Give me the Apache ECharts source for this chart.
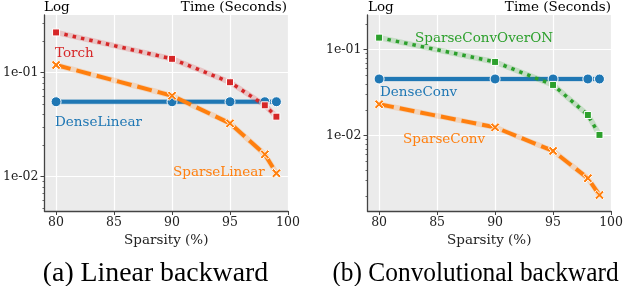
<!DOCTYPE html>
<html><head><meta charset="utf-8">
<script src="https://cdn.jsdelivr.net/npm/echarts@6/dist/echarts.min.js"></script>
<style>html,body{margin:0;padding:0;background:#fff}#c{width:626px;height:286px}</style>
</head><body><div id="c"></div>
<script>
// ---- data ----
const sparsity = [80, 90, 95, 98, 99];
const xTicks = [80, 85, 90, 95, 100];
const yTicks = [0.01, 0.1];
const yTickLabels = ['1e-02', '1e-01'];
const yMinorLeft = [0.005,0.006,0.007,0.008,0.009,0.02,0.03,0.04,0.05,0.06,0.07,0.08,0.09,0.2,0.3];
const yMinorRight = [0.002,0.003,0.004,0.005,0.006,0.007,0.008,0.009,0.02,0.03,0.04,0.05,0.06,0.07,0.08,0.09,0.2];
// Linear backward
const torch = [0.244, 0.136, 0.081, 0.0486, 0.0378];
const denseLinear = [0.0526, 0.0526, 0.0526, 0.0526, 0.0526];
const sparseLinear = [0.1186, 0.0601, 0.0326, 0.0164, 0.0108];
// Convolutional backward
const sparseConvOverON = [0.138, 0.072, 0.0389, 0.0174, 0.0102];
const denseConv = [0.0456, 0.0456, 0.0456, 0.0456, 0.0456];
const sparseConv = [0.0232, 0.0125, 0.00664, 0.0032, 0.00204];

const C = {blue:'#1f77b4', orange:'#ff7f0e', green:'#2ca02c', red:'#d62728'};
const FONT = 'DejaVu Serif';
const XPATH = 'path://M2,0 L5,3 L8,0 L10,2 L7,5 L10,8 L8,10 L5,7 L2,10 L0,8 L3,5 L0,2 Z';

const pair = arr => sparsity.map((x,i)=>[x, arr[i]]);

function xAxisFor(gi){
  return {
    type:'value', gridIndex:gi, min:79, max:100,
    axisLine:{show:true, lineStyle:{color:'#444', width:1.3}},
    axisTick:{show:true, customValues:xTicks, length:4, lineStyle:{color:'#444', width:1}},
    axisLabel:{customValues:xTicks, margin:5, color:'#222', fontFamily:FONT, fontSize:12.5},
    splitLine:{show:true, lineStyle:{color:'#fff', width:1.2}},
    name:'Sparsity (%)', nameLocation:'middle', nameGap:21,
    nameTextStyle:{color:'#222', fontFamily:FONT, fontSize:13.5}
  };
}
function yAxesFor(gi, min, max, minor){
  return [{
    type:'log', logBase:10, gridIndex:gi, position:'left', min:min, max:max,
    axisLine:{show:true, lineStyle:{color:'#444', width:1.3}},
    axisTick:{show:true, customValues:yTicks, length:4, lineStyle:{color:'#444', width:1}},
    axisLabel:{customValues:yTicks, margin:6, color:'#222', fontFamily:FONT, fontSize:12.5,
      formatter:v=>{const i=yTicks.findIndex(t=>Math.abs(t-v)/t<1e-6);return i>=0?yTickLabels[i]:'';}},
    splitLine:{show:true, lineStyle:{color:'#fff', width:1.2}}
  },{
    type:'log', logBase:10, gridIndex:gi, position:'left', offset:0, min:min, max:max,
    axisLine:{show:false, onZero:false},
    axisTick:{show:true, customValues:minor, length:2, lineStyle:{color:'#444', width:0.8}},
    axisLabel:{show:false},
    splitLine:{show:false}
  }];
}
function series(xi, yi, data, color, kind, z){
  const d = pair(data);
  const halo = {type:'line', xAxisIndex:xi, yAxisIndex:yi, data:d, symbol:'none', silent:true, z:z,
    lineStyle:{color:color, opacity:0.2, width:5.5}, animation:false};
  let dash = 'solid', width = 4, symbol='circle', size=10;
  if(kind==='dot'){dash=[3.5,5]; width=3.5; symbol='rect'; size=7;}
  if(kind==='dash'){dash=[15,6]; width=4; symbol=XPATH; size=9.5;}
  const main = {type:'line', xAxisIndex:xi, yAxisIndex:yi, data:d, z:z+1, animation:false,
    symbol:symbol, symbolSize:size, showAllSymbol:true,
    itemStyle:{color:color, borderColor:'#fff', borderWidth:1},
    lineStyle:{color:color, width:width, type:dash, cap:'butt'}};
  return [halo, main];
}
function txt(x, y, s, color, size, align){
  return {type:'text', x:x, y:y, silent:true, z:100,
    style:{text:s, fill:color, font:`${size}px "${FONT}"`, textAlign:align||'left', textVerticalAlign:'middle'}};
}
function cap(x, y, s, sx){
  return {type:'text', x:x, y:y, scaleX:sx, silent:true, z:100,
    style:{text:s, fill:'#000', font:'27px "Liberation Serif"', textAlign:'center', textVerticalAlign:'middle'}};
}

const chart = echarts.init(document.getElementById('c'), null, {renderer:'canvas'});
chart.setOption({
  animation:false,
  backgroundColor:'#fff',
  grid:[
    {left:44, top:15, width:244, height:196, show:true, backgroundColor:'#EBEBEB', borderWidth:0},
    {left:367.5, top:15, width:244.5, height:196, show:true, backgroundColor:'#EBEBEB', borderWidth:0}
  ],
  xAxis:[xAxisFor(0), xAxisFor(1)],
  yAxis:[...yAxesFor(0, 0.00468, 0.359, yMinorLeft), ...yAxesFor(1, 0.00133, 0.253, yMinorRight)],
  series:[
    ...series(0,0,denseLinear,C.blue,'solid',2),
    ...series(0,0,sparseLinear,C.orange,'dash',4),
    ...series(0,0,torch,C.red,'dot',6),
    ...series(1,2,denseConv,C.blue,'solid',2),
    ...series(1,2,sparseConv,C.orange,'dash',4),
    ...series(1,2,sparseConvOverON,C.green,'dot',6)
  ],
  graphic:[
    txt(44, 7, 'Log', '#000', 13.5),
    txt(287, 7, 'Time (Seconds)', '#000', 13.5, 'right'),
    txt(368, 7, 'Log', '#000', 13.5),
    txt(611, 7, 'Time (Seconds)', '#000', 13.5, 'right'),
    txt(55, 53, 'Torch', C.red, 13.5),
    txt(55, 122, 'DenseLinear', C.blue, 13.5),
    txt(173, 172, 'SparseLinear', C.orange, 13.5),
    txt(415, 38, 'SparseConvOverON', C.green, 13.5),
    txt(380, 92, 'DenseConv', C.blue, 13.5),
    txt(403, 139.5, 'SparseConv', C.orange, 13.5),
    cap(155.5, 274, '(a) Linear backward', 1.03),
    cap(475.5, 274, '(b) Convolutional backward', 0.94)
  ]
});
</script></body></html>
